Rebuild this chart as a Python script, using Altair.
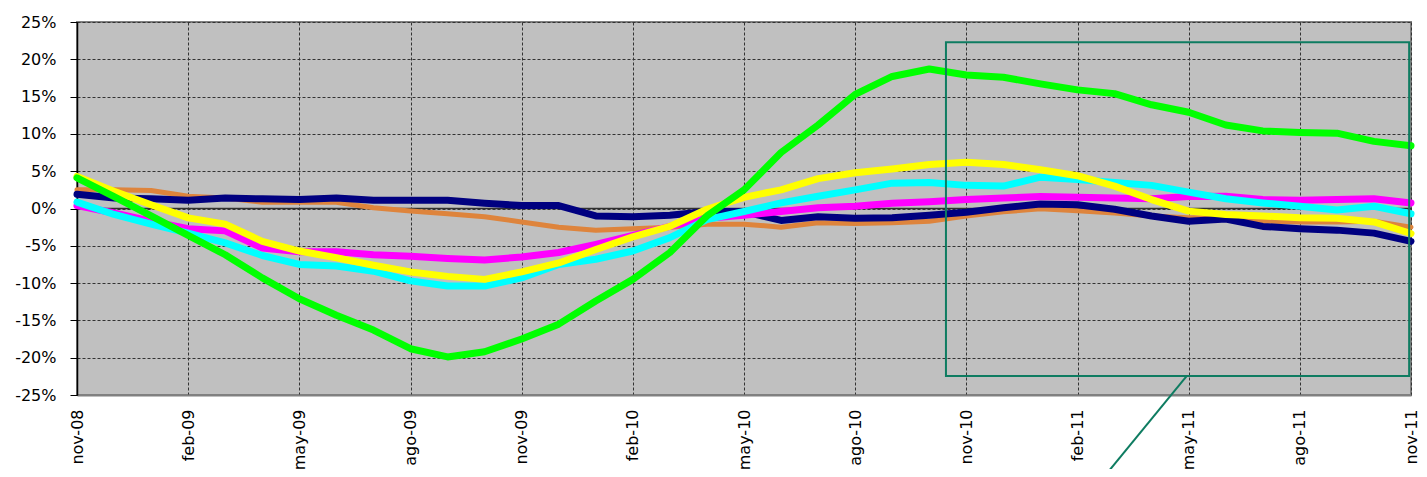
import altair as alt
import pandas as pd

month_labels = [
    "nov-08", "dic-08", "ene-09", "feb-09", "mar-09", "abr-09", "may-09", "jun-09", "jul-09",
    "ago-09", "sep-09", "oct-09", "nov-09", "dic-09", "ene-10", "feb-10", "mar-10", "abr-10",
    "may-10", "jun-10", "jul-10", "ago-10", "sep-10", "oct-10", "nov-10", "dic-10", "ene-11",
    "feb-11", "mar-11", "abr-11", "may-11", "jun-11", "jul-11", "ago-11", "sep-11", "oct-11", "nov-11",
]
tick_months = list(range(0, 37, 3))
y_ticks = [-25, -20, -15, -10, -5, 0, 5, 10, 15, 20, 25]

orange = [2.5, 2.5, 2.4, 1.65, 1.4, 0.85, 0.85, 0.85, 0.1, -0.35,
          -0.7, -1.1, -1.8, -2.5, -2.9, -2.7, -2.5, -2.1, -2.1,
          -2.5, -1.9, -2.0, -1.9, -1.7, -1.0, -0.45, -0.05, -0.3,
          -0.6, -1.0, -1.25, -1.25, -1.7, -1.8, -1.8, -1.7, -2.5]
navy = [1.9, 1.4, 1.3, 1.1, 1.4, 1.3, 1.2, 1.4, 1.1, 1.1,
        1.1, 0.7, 0.4, 0.4, -1.0, -1.1, -0.9, -0.4, -0.4,
        -1.6, -1.1, -1.3, -1.25, -0.9, -0.5, 0.1, 0.6, 0.5,
        -0.1, -1.0, -1.7, -1.4, -2.4, -2.7, -2.9, -3.3, -4.4]
magenta = [0.4, -0.6, -1.7, -2.7, -3.0, -5.3, -5.8, -5.8, -6.2, -6.4,
           -6.7, -6.9, -6.5, -5.9, -4.8, -3.6, -2.4, -1.3, -0.9,
           -0.4, 0.1, 0.3, 0.7, 0.9, 1.2, 1.4, 1.6, 1.5,
           1.4, 1.3, 1.6, 1.65, 1.2, 1.1, 1.2, 1.3, 0.75]
cyan = [0.85, -0.8, -2.1, -3.3, -4.6, -6.3, -7.5, -7.7, -8.4, -9.7,
        -10.4, -10.4, -9.3, -7.5, -6.8, -5.7, -3.9, -1.5, -0.4,
        0.75, 1.65, 2.5, 3.4, 3.5, 3.1, 3.0, 4.2, 3.9,
        3.5, 3.1, 2.2, 1.3, 0.75, 0.3, -0.2, 0.3, -0.7]
yellow = [4.3, 2.3, 0.5, -1.25, -2.1, -4.4, -5.7, -6.6, -7.6, -8.5,
          -9.1, -9.5, -8.5, -7.3, -5.5, -3.8, -2.4, -0.1, 1.5,
          2.5, 4.0, 4.8, 5.3, 5.9, 6.2, 5.9, 5.2, 4.4,
          3.0, 1.2, -0.35, -0.8, -1.0, -1.25, -1.3, -1.8, -3.35]
green = [4.1, 1.6, -1.0, -3.6, -6.2, -9.3, -12.1, -14.3, -16.3, -18.8,
         -19.9, -19.2, -17.5, -15.5, -12.4, -9.5, -5.9, -1.0, 2.5,
         7.5, 11.2, 15.3, 17.7, 18.7, 17.9, 17.6, 16.7, 15.9,
         15.4, 13.9, 12.9, 11.2, 10.4, 10.2, 10.1, 9.0, 8.4]

# highlight box and pointer (in data units: month index, percent)
box_x = [23.45, 35.95]
box_y = [22.3, -22.45]
pointer_x = [29.95, 27.2]
pointer_y = [-22.45, -39.1]

series = [
    ("orange", orange, "#DE843C", 5),
    ("navy", navy, "#000080", 7),
    ("magenta", magenta, "#FF00FF", 7),
    ("cyan", cyan, "#00FFFF", 7),
    ("yellow", yellow, "#FFFF00", 7),
    ("green", green, "#00FF00", 7),
]

label_arr = "[" + ",".join("'%s'" % m for m in month_labels) + "]"

x_scale = alt.Scale(domain=[0, 36], nice=False, zero=False)
y_scale = alt.Scale(domain=[-25, 25], nice=False)

x_axis = alt.Axis(
    values=tick_months, labelExpr=label_arr + "[datum.value]", title=None,
    labelAngle=-90, ticks=False, labelPadding=14, domainColor="#808080", domainWidth=2,
    grid=True, labelOverlap=False, labelFlush=False,
)
y_axis = alt.Axis(
    values=y_ticks, labelExpr="datum.value + '%'", title=None,
    tickSize=7, tickColor="black", tickWidth=1, labelPadding=14,
    domainColor="black", domainWidth=1.5, grid=True, labelOverlap=False, labelFlush=False,
)

layers = []
zero_df = pd.DataFrame({"y": [0]})
layers.append(
    alt.Chart(zero_df).mark_rule(color="#303030", strokeWidth=1.5).encode(
        y=alt.Y("y:Q", scale=y_scale, axis=y_axis)
    )
)

for name, vals, col, w in series:
    df = pd.DataFrame({"m": list(range(len(vals))), "v": vals})
    layers.append(
        alt.Chart(df).mark_line(color=col, strokeWidth=w, strokeCap="round", strokeJoin="round").encode(
            x=alt.X("m:Q", scale=x_scale, axis=x_axis),
            y=alt.Y("v:Q", scale=y_scale, axis=y_axis),
        )
    )

box_df = pd.DataFrame({"x": [box_x[0]], "x2": [box_x[1]], "y": [box_y[0]], "y2": [box_y[1]]})
layers.append(
    alt.Chart(box_df).mark_rect(filled=False, stroke="#0E7C61", strokeWidth=2).encode(
        x=alt.X("x:Q", scale=x_scale, axis=x_axis), x2="x2:Q",
        y=alt.Y("y:Q", scale=y_scale, axis=y_axis), y2="y2:Q",
    )
)
ptr_df = pd.DataFrame({"x": [pointer_x[0]], "x2": [pointer_x[1]], "y": [pointer_y[0]], "y2": [pointer_y[1]]})
layers.append(
    alt.Chart(ptr_df).mark_rule(color="#0E7C61", strokeWidth=2, clip=False).encode(
        x=alt.X("x:Q", scale=x_scale, axis=x_axis), x2="x2:Q",
        y=alt.Y("y:Q", scale=y_scale, axis=y_axis), y2="y2:Q",
    )
)

chart = alt.layer(*layers).properties(
    width=1334, height=373,
    autosize=alt.AutoSizeParams(type="none"),
    padding={"left": 69, "top": 14, "right": 8, "bottom": 74},
).configure_view(
    fill="#C0C0C0", stroke="#808080", strokeWidth=2,
).configure_axis(
    gridColor="#333333", gridDash=[3, 2], gridWidth=1, gridOpacity=1,
    labelFont="DejaVu Sans", labelFontSize=16, labelColor="black",
    labelOverlap=False, labelFlush=False,
)

chart.save("out.html", embed_options={"renderer": "svg", "actions": False})
